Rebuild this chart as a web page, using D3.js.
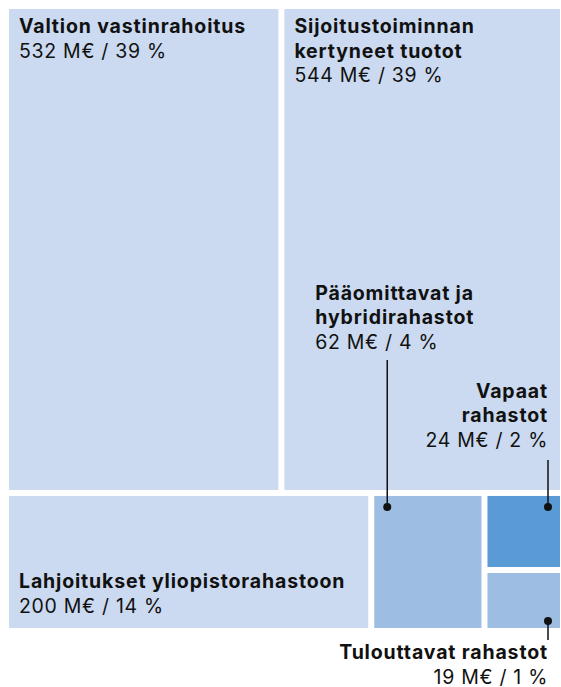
<!DOCTYPE html>
<html><head><meta charset="utf-8">
<script src="https://cdn.jsdelivr.net/npm/d3@7"></script>
<style>
html,body{margin:0;padding:0;background:#fff;}
svg{display:block;font-family:Inter,"Noto Sans",sans-serif;}
</style></head>
<body><svg id="c" width="561" height="687"></svg>
<script>
const names = ["Valtion vastinrahoitus","Sijoitustoiminnan kertyneet tuotot","Lahjoitukset yliopistorahastoon","Pääomittavat ja hybridirahastot","Vapaat rahastot","Tulouttavat rahastot"];
const titleLines = [["Valtion vastinrahoitus"],["Sijoitustoiminnan","kertyneet tuotot"],["Lahjoitukset yliopistorahastoon"],["Pääomittavat ja","hybridirahastot"],["Vapaat","rahastot"],["Tulouttavat rahastot"]];
const values = [532,544,200,62,24,19];
const shares = [39,39,14,4,2,1];
const colors = ["#cbdaf0","#cbdaf0","#cbdaf0","#9dbde3","#5b9bd5","#9dbde3"];

const svg = d3.select("#c");
const data = {children: names.map((n,i)=>({name:n,i:i,value:values[i]}))};
const root = d3.hierarchy(data).sum(d=>d.value||0);
d3.treemap().tile(d3.treemapSquarify).size([551,619]).paddingInner(6)(root);
const g = svg.append("g").attr("transform","translate(9,9)");
const leaves = root.leaves();
g.selectAll("rect").data(leaves).join("rect")
  .attr("x",d=>d.x0).attr("y",d=>d.y0)
  .attr("width",d=>d.x1-d.x0).attr("height",d=>d.y1-d.y0)
  .attr("fill",d=>colors[d.data.i]);

function label(x,y,i,anchor){
  const t = g.append("text").attr("x",x).attr("y",y).attr("text-anchor",anchor).attr("font-size",19.5).attr("fill","#111");
  titleLines[i].forEach((l,k)=>t.append("tspan").attr("x",x).attr("dy",k?24.5:0).attr("font-weight",700).attr("letter-spacing",0.85).text(l));
  t.append("tspan").attr("x",x).attr("dy",24.5).attr("font-weight",400).attr("letter-spacing",0.7).text(`${values[i]} M€ / ${shares[i]} %`);
}
leaves.forEach(d=>{
  const i=d.data.i;
  if(i===0||i===1) label(d.x0+10,d.y0+24,i,"start");
  if(i===2) label(d.x0+10,d.y1-40,i,"start");
});
function leader(x,y1,y2){
  g.append("line").attr("x1",x).attr("x2",x).attr("y1",y1).attr("y2",y2).attr("stroke","#111").attr("stroke-width",1.5);
  g.append("circle").attr("cx",x).attr("cy",y1).attr("r",4).attr("fill","#111");
}
const L = i=>leaves.find(d=>d.data.i===i);
{ const d=L(3); const x=d.x0+13, y=d.y0+11; leader(x,y,y-147); label(x-72,y-207,3,"start"); }
{ const d=L(4); const x=d.x1-12, y=d.y0+11; leader(x,y,y-47); label(x,y-109,4,"end"); }
{ const d=L(5); const x=d.x1-12, y=d.y1-7; leader(x,y,y+19); label(x,y+38,5,"end"); }
</script></body></html>
